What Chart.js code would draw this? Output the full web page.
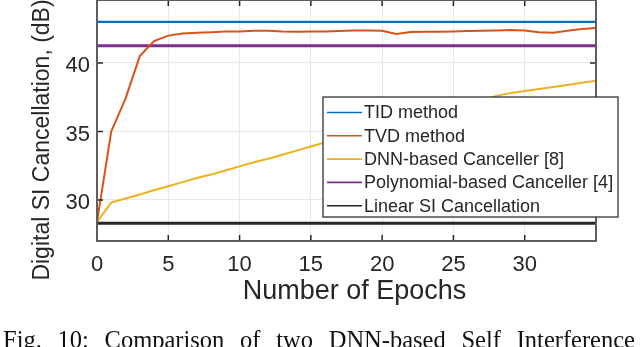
<!DOCTYPE html>
<html>
<head>
<meta charset="utf-8">
<script src="https://cdn.jsdelivr.net/npm/chart.js@4.4.0/dist/chart.umd.min.js"></script>
<style>
  html, body { margin: 0; padding: 0; background: #fff; overflow: hidden; }
  #wrap { position: relative; width: 640px; height: 347px; }
  #caption {
    position: absolute; left: 3px; top: 326px; width: 632px;
    font-family: 'Liberation Serif', 'Times New Roman', serif; font-size: 24.5px;
    line-height: normal; color: #111;
    text-align: justify; text-align-last: justify;
  }
</style>
</head>
<body>
<div id="wrap">
  <canvas id="si-chart" width="640" height="347"></canvas>
  <div id="caption">Fig. 10: Comparison of two DNN-based Self Interference</div>
</div>
<script>
// values
const epochs = [0, 1, 2, 3, 4, 5, 6, 7, 8, 9, 10, 11, 12, 13, 14, 15, 16, 17,
  18, 19, 20, 21, 22, 23, 24, 25, 26, 27, 28, 29, 30, 31, 32, 33, 34, 35]
const tvdDb = [28.4, 35.0, 37.4, 40.5, 41.6, 42.0, 42.15, 42.2, 42.25, 42.3, 42.3, 42.35,
  42.35, 42.3, 42.28, 42.3, 42.3, 42.33, 42.37, 42.38, 42.35, 42.12, 42.26, 42.28,
  42.28, 42.3, 42.33, 42.36, 42.38, 42.4, 42.38, 42.25, 42.2, 42.35, 42.48, 42.56]
const dnnDb = [28.4, 29.8, 30.1, 30.4, 30.7, 31.0, 31.3, 31.6, 31.85, 32.15, 32.45, 32.75,
  33.0, 33.3, 33.6, 33.9, 34.2, 34.5, 34.8, 35.05, 35.35, 35.6, 35.9, 36.2,
  36.5, 36.75, 37.05, 37.3, 37.6, 37.8, 37.95, 38.1, 38.25, 38.4, 38.55, 38.7]
const refEpochs = [0, 35]
const tidDb = [43.0, 43.0]
const polyDb = [41.25, 41.25]
const linearDb = [28.3, 28.3]

const seriesNames = ['TID method', 'TVD method', 'DNN-based Canceller [8]',
  'Polynomial-based Canceller [4]', 'Linear SI Cancellation']
const xTickValues = [0, 5, 10, 15, 20, 25, 30]
const yTickValues = [30, 35, 40]

const FONT = "'Liberation Sans', Arial, Helvetica, sans-serif"
const TEXT = '#262626'

const toPoints = (xs, ys) => xs.map((x, i) => ({ x, y: ys[i] }))

// MATLAB-like box, inward ticks, axis titles and legend inside the plot
const matlabBox = {
  id: 'matlabBox',
  afterDatasetsDraw(chart) {
    const { ctx, chartArea: a, scales: { x, y } } = chart
    ctx.save()
    ctx.strokeStyle = '#262626'
    ctx.lineWidth = 1.5
    ctx.beginPath()
    x.ticks.forEach(t => {
      const px = x.getPixelForValue(t.value)
      ctx.moveTo(px, a.bottom); ctx.lineTo(px, a.bottom - 6)
      ctx.moveTo(px, a.top); ctx.lineTo(px, a.top + 6)
    })
    y.ticks.forEach(t => {
      const py = y.getPixelForValue(t.value)
      ctx.moveTo(a.left, py); ctx.lineTo(a.left + 6, py)
      ctx.moveTo(a.right, py); ctx.lineTo(a.right - 6, py)
    })
    ctx.stroke()
    ctx.strokeStyle = '#5e5e5e'
    ctx.lineWidth = 2
    ctx.strokeRect(a.left, a.top, a.right - a.left, a.bottom - a.top)

    // axis titles
    ctx.fillStyle = TEXT
    ctx.font = '27px ' + FONT
    ctx.textAlign = 'center'
    ctx.textBaseline = 'alphabetic'
    ctx.fillText('Number of Epochs', 354.5, 299)
    ctx.font = '23px ' + FONT
    ctx.translate(49, 140)
    ctx.rotate(-Math.PI / 2)
    ctx.fillText('Digital SI Cancellation, (dB)', 0, 0)
    ctx.restore()
  },
  afterDraw(chart) {
    const { ctx } = chart
    const box = { left: 323, top: 97, width: 295, height: 120 }
    ctx.save()
    ctx.fillStyle = '#fff'
    ctx.fillRect(box.left, box.top, box.width, box.height)
    ctx.strokeStyle = '#333'
    ctx.lineWidth = 1.3
    ctx.strokeRect(box.left, box.top, box.width, box.height)
    ctx.font = '18px ' + FONT
    ctx.textAlign = 'left'
    ctx.textBaseline = 'middle'
    chart.data.datasets.forEach((ds, i) => {
      const cy = 112.5 + i * 23.3
      ctx.strokeStyle = ds.borderColor
      ctx.lineWidth = 1.6
      ctx.beginPath()
      ctx.moveTo(327, cy); ctx.lineTo(362, cy)
      ctx.stroke()
      ctx.fillStyle = TEXT
      ctx.fillText(ds.label, 364, cy + 1)
    })
    ctx.restore()
  }
}

new Chart('si-chart', {
  type: 'line',
  data: {
    datasets: [
      { label: seriesNames[0], data: toPoints(refEpochs, tidDb), borderColor: '#0072BD', borderWidth: 2.2 },
      { label: seriesNames[1], data: toPoints(epochs, tvdDb), borderColor: '#D95319', borderWidth: 2 },
      { label: seriesNames[2], data: toPoints(epochs, dnnDb), borderColor: '#EDB120', borderWidth: 2 },
      { label: seriesNames[3], data: toPoints(refEpochs, polyDb), borderColor: '#7E2F8E', borderWidth: 3 },
      { label: seriesNames[4], data: toPoints(refEpochs, linearDb), borderColor: '#262626', borderWidth: 3 }
    ]
  },
  options: {
    responsive: false,
    animation: false,
    layout: { padding: { top: 0, right: 44, bottom: 0, left: 0 } },
    elements: { point: { radius: 0 }, line: { tension: 0 } },
    plugins: { legend: { display: false }, tooltip: { enabled: false } },
    scales: {
      x: {
        type: 'linear', min: 0, max: 35,
        afterBuildTicks: s => { s.ticks = xTickValues.map(v => ({ value: v })) },
        afterFit: s => { s.height = 106; s.paddingLeft = 0; s.paddingRight = 0 },
        grid: { color: '#e8e8e8', lineWidth: 1, drawTicks: false },
        border: { display: false },
        ticks: { padding: 11, color: TEXT, font: { family: FONT, size: 22 } }
      },
      y: {
        min: 27, max: 44.6,
        afterBuildTicks: s => { s.ticks = yTickValues.map(v => ({ value: v })) },
        afterFit: s => { s.width = 97; s.paddingTop = 0; s.paddingBottom = 0 },
        grid: { color: '#e8e8e8', lineWidth: 1, drawTicks: false },
        border: { display: false },
        ticks: { padding: 7, labelOffset: 3, color: TEXT, font: { family: FONT, size: 22 } }
      }
    }
  },
  plugins: [matlabBox]
})
</script>
</body>
</html>
